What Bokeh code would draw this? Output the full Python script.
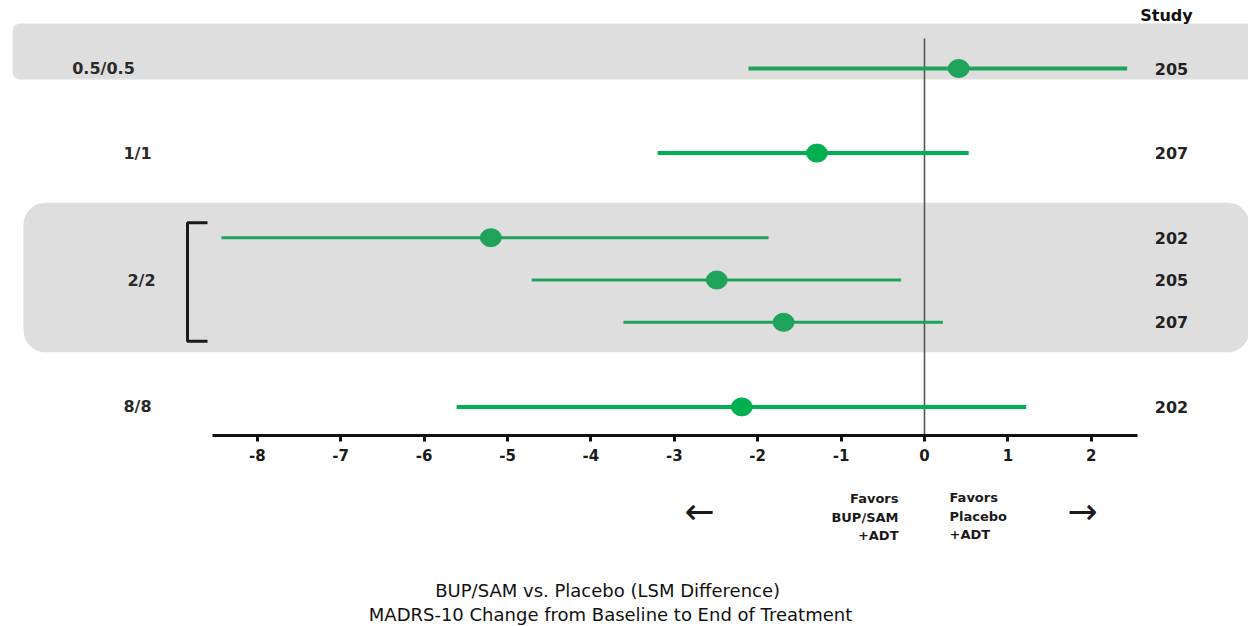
from bokeh.plotting import figure
from bokeh.models import (ColumnDataSource, Range1d, LinearAxis, FixedTicker,
                          BoxAnnotation)
from bokeh.core.properties import value
from bokeh.embed import file_html
from bokeh.resources import INLINE

# ---- data: LSM difference (BUP/SAM - placebo) with 95% CI, by dose and study
dose = ["0.5/0.5", "1/1", "2/2", "2/2", "2/2", "8/8"]
study = ["205", "207", "202", "205", "207", "202"]
lsm_diff = [0.41, -1.29, -5.20, -2.49, -1.69, -2.19]
ci_low = [-2.11, -3.20, -8.43, -4.71, -3.61, -5.61]
ci_high = [2.43, 0.53, -1.87, -0.28, 0.22, 1.22]
tick_values = [-8, -7, -6, -5, -4, -3, -2, -1, 0, 1, 2]
shaded_doses = ["0.5/0.5", "2/2"]

# ---- layout helpers (page pixels -> data units)
W, H = 1248, 626
PX_PER_UNIT = 83.4      # horizontal pixels per LSM point
ZERO_PX = 924           # horizontal pixel of x = 0
SLOT_PX = 42.3          # vertical pixels per row slot
FIRST_ROW_PX = 68       # vertical pixel of the first row


def xd(px):
    return (px - ZERO_PX) / PX_PER_UNIT


def yd(px):
    return (px - FIRST_ROW_PX) / SLOT_PX


# rows of one dose sit in consecutive slots, one empty slot between doses
slots = []
s = 0
for i, d in enumerate(dose):
    if i > 0:
        s += 1 if d == dose[i - 1] else 2
    slots.append(s)

GREEN_SHADED = "#1fa25a"
GREEN_PLAIN = "#00b050"
in_band = [d in shaded_doses for d in dose]
colors = [GREEN_SHADED if b else GREEN_PLAIN for b in in_band]
widths = [3 if dose.count(d) > 1 else 4 for d in dose]

src = ColumnDataSource(dict(dose=dose, study=study, y=slots, est=lsm_diff,
                            lo=ci_low, hi=ci_high, color=colors, lw=widths))

p = figure(width=W, height=H, x_range=Range1d(xd(0), xd(W)),
           y_range=Range1d(yd(H), yd(0)), x_axis_type=None, y_axis_type=None,
           min_border=0, toolbar_location=None, output_backend="svg",
           background_fill_color="white", border_fill_color="white")
p.outline_line_color = None

# shaded dose bands
first_rows = {}
last_rows = {}
for d, y in zip(dose, slots):
    first_rows.setdefault(d, y)
    last_rows[d] = y
band_style = dict(fill_color="#dedede", fill_alpha=1, line_color=None,
                  level="underlay")
p.add_layout(BoxAnnotation(left=xd(12), right=xd(W + 20),
                           top=first_rows["0.5/0.5"] - 45 / SLOT_PX,
                           bottom=last_rows["0.5/0.5"] + 11 / SLOT_PX,
                           border_radius=8, **band_style))
p.add_layout(BoxAnnotation(left=xd(23), right=xd(W + 1),
                           top=first_rows["2/2"] - 35 / SLOT_PX,
                           bottom=last_rows["2/2"] + 30 / SLOT_PX,
                           border_radius=22, **band_style))

TRACK = value("DejaVu Sans")

# x axis placed inside the frame, under the last row
axis = LinearAxis(fixed_location=slots[-1] + 29 / SLOT_PX,
                  bounds=(xd(212), xd(1137)),
                  ticker=FixedTicker(ticks=tick_values, minor_ticks=[]))
axis.major_label_overrides = {t: str(t) for t in tick_values}
axis.axis_line_width = 3
axis.axis_line_color = "#111111"
axis.major_tick_line_width = 3
axis.major_tick_line_color = "#111111"
axis.major_tick_in = 0
axis.major_tick_out = 6
axis.minor_tick_line_color = None
axis.major_label_standoff = 7
axis.major_label_text_font = "DejaVu Sans"
axis.major_label_text_font_style = "bold"
axis.major_label_text_font_size = "15px"
axis.major_label_text_color = "#1a1a1a"
p.add_layout(axis, "below")

# reference line at zero difference
p.segment(x0=[0], y0=[slots[0] - 30 / SLOT_PX], x1=[0],
          y1=[slots[-1] + 29 / SLOT_PX], line_color="#555555", line_width=1.6)

# bracket joining the studies of the repeated dose
b_top = first_rows["2/2"] - 15 / SLOT_PX
b_bot = last_rows["2/2"] + 19 / SLOT_PX
p.multi_line(xs=[[xd(207), xd(187), xd(187), xd(207)]],
             ys=[[b_top, b_top, b_bot, b_bot]],
             line_color="#1a1a1a", line_width=3)

# confidence intervals and point estimates
p.segment(x0="lo", y0="y", x1="hi", y1="y", source=src,
          line_color="color", line_width="lw")
p.ellipse(x="est", y="y", width=21, height=18, width_units="screen",
          height_units="screen", source=src, fill_color="color",
          line_color="color")

# study labels at right
p.text(x=[xd(1171)] * len(study), y=slots, text=study,
       text_align="center", text_baseline="middle", text_font=TRACK,
       text_font_style="bold", text_font_size="16px", text_color="#222222")
p.text(x=[xd(1166)], y=[yd(15)], text=["Study"], text_align="center",
       text_baseline="middle", text_font=TRACK, text_font_style="bold",
       text_font_size="16px", text_color="#111111")

# dose labels at left, one per dose group
groups = list(dict.fromkeys(dose))
group_y = [(first_rows[g] + last_rows[g]) / 2 for g in groups]
group_center_px = {"0.5/0.5": 103, "1/1": 137, "2/2": 141, "8/8": 137}
p.text(x=[xd(group_center_px[g]) for g in groups], y=group_y, text=groups,
       text_align="center", text_baseline="middle", text_font=TRACK,
       text_font_style="bold", text_font_size="16px", text_color="#2a2a2a")

# direction notes under the axis
left_note = ["Favors", "BUP/SAM", "+ADT"]
right_note = ["Favors", "Placebo", "+ADT"]
note_y = [yd(498), yd(517), yd(535)]
p.text(x=[xd(898)] * 3, y=note_y, text=left_note, text_align="right",
       text_baseline="middle", text_font=TRACK, text_font_style="bold",
       text_font_size="13px", text_color="#1a1a1a")
p.text(x=[xd(949)] * 3, y=[v - 1 / SLOT_PX for v in note_y], text=right_note,
       text_align="left", text_baseline="middle", text_font=TRACK,
       text_font_style="bold", text_font_size="13px", text_color="#1a1a1a")
p.text(x=[xd(699), xd(1082)], y=[yd(511), yd(511)], text=["\u2190", "\u2192"],
       text_align="center", text_baseline="middle", text_font=TRACK,
       text_font_size="36px", text_color="#1a1a1a")

# axis title
p.text(x=[xd(610), xd(610)], y=[yd(590), yd(614)],
       text=["BUP/SAM vs. Placebo (LSM  Difference)",
             "MADRS-10 Change from Baseline to End of Treatment"],
       text_align="center", text_baseline="middle", text_font=TRACK,
       text_font_size="18px", text_color="#111111")

open("out.html", "w").write(file_html(p, INLINE))
